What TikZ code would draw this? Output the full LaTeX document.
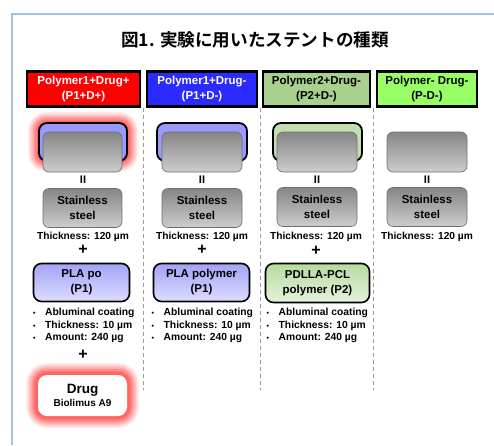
\documentclass[tikz,border=0pt]{standalone}
\usepackage{fontspec}
\setmainfont{Liberation Sans}
\newfontfamily\cjkbold{Noto Sans CJK JP Bold}

\definecolor{framecol}{HTML}{9DC3E6}
\definecolor{hdrred}{HTML}{FF0000}
\definecolor{hdrblue}{HTML}{2B2BFF}
\definecolor{hdrgreen}{HTML}{A9D18E}
\definecolor{hdrlime}{HTML}{99FF66}
\definecolor{plafill}{HTML}{9999FF}
\definecolor{platop}{HTML}{A3A3F7}
\definecolor{plabot}{HTML}{DCDCFF}
\definecolor{pcltop}{HTML}{B7DB9F}
\definecolor{pclbot}{HTML}{E6F2DD}
\definecolor{steeltop}{HTML}{868686}
\definecolor{steelbot}{HTML}{CDCDCD}
\definecolor{steeledge}{HTML}{6E6E6E}
\definecolor{glow}{HTML}{FF4040}

\newcommand{\fsz}[2]{\fontsize{#1}{#2}\selectfont}

\tikzset{
  x=1pt, y=-1pt,
  hdrbox/.style={draw=black, line width=2.2pt, inner sep=0pt, align=center,
    minimum height=35pt, font=\fsz{11.5}{15}\bfseries},
  coatbox/.style={draw=black, line width=1.8pt, rounded corners=8pt,
    inner sep=0pt, minimum height=38pt},
  steelbox/.style={draw=steeledge, line width=0.6pt, rounded corners=6pt,
    top color=steeltop, bottom color=steelbot, inner sep=0pt,
    minimum width=79pt, minimum height=39pt, align=center,
    font=\fsz{11.5}{15}\bfseries},
  layerbox/.style={draw=black, line width=1.6pt, rounded corners=8pt,
    inner sep=0pt, minimum height=38pt, align=center,
    font=\fsz{11.5}{15}\bfseries},
  eqsign/.style={font=\fsz{11}{12}\bfseries, inner sep=0pt},
  plussign/.style={font=\fsz{16}{16}\bfseries, inner sep=0pt},
  thick label/.style={font=\fsz{10.2}{12}\bfseries, inner sep=0pt},
  bullets/.style={font=\fsz{10.3}{12.6}\bfseries, align=left, inner sep=0pt, anchor=west},
  separator/.style={draw=gray!80, line width=0.8pt, dash pattern=on 4pt off 3pt},
}

% soft red halo: stacked translucent rings around a rounded box
\newcommand{\redglow}[5]{%
  \foreach \w/\o in {22/0.10,19/0.12,16/0.15,13/0.18,10/0.22,7/0.28,4/0.35}{
    \draw[glow, line width=\w pt, opacity=\o, rounded corners=#5pt]
      (#1,#2) rectangle (#3,#4);
  }%
}

\newcommand{\dotitem}{\makebox[12pt][l]{\fsz{7}{12}\textbullet}}

\begin{document}
\begin{tikzpicture}
\useasboundingbox (0,0) rectangle (494,445);
\fill[white] (0,0) rectangle (494,445);

% light blue frame (top and left edges)
\draw[framecol, line width=2pt] (12,445) -- (12,14) -- (494,14);

% title
\node[font=\cjkbold\fsz{17.6}{20}] (title) at (255,40) {図1. 実験に用いたステントの種類};

% column headers
\node[hdrbox, fill=hdrred, text=white, minimum width=113pt] (h1) at (83.5,89)
  {Polymer1+Drug+\\(P1+D+)};
\node[hdrbox, fill=hdrblue, text=white, minimum width=110pt] (h2) at (202,89)
  {Polymer1+Drug-\\(P1+D-)};
\node[hdrbox, fill=hdrgreen, text=black, minimum width=107pt] (h3) at (316.5,89)
  {Polymer2+Drug-\\(P2+D-)};
\node[hdrbox, fill=hdrlime, text=black, minimum width=100pt] (h4) at (427,89)
  {Polymer- Drug-\\(P-D-)};

% column separators
\coordinate (s1top) at (143,108);   \coordinate (s1bot) at (143,390);
\coordinate (s2top) at (260.5,108); \coordinate (s2bot) at (260.5,390);
\coordinate (s3top) at (373,108);   \coordinate (s3bot) at (373,390);
\draw[separator] (s1top) -- (s1bot);
\draw[separator] (s2top) -- (s2bot);
\draw[separator] (s3top) -- (s3bot);

% ---------- stent cross sections ----------
\redglow{39}{123}{127}{161}{8}
\node[coatbox, fill=plafill, minimum width=88pt] (c1) at (83,142) {};
\node[steelbox, minimum height=40pt] (x1) at (82.5,152) {};

\node[coatbox, fill=plafill, minimum width=90pt] (c2) at (202,142) {};
\node[steelbox, minimum height=40pt, minimum width=80pt] (x2) at (202,152) {};

\node[coatbox, fill=hdrgreen!70!white, minimum width=89pt] (c3) at (317.5,142) {};
\node[steelbox, minimum height=40pt, minimum width=80pt] (x3) at (317,152) {};

\node[steelbox, minimum height=40pt, minimum width=80pt] (x4) at (427,152) {};

% ---------- equals signs ----------
\node[eqsign] (e1) at (83,180) {II};
\node[eqsign] (e2) at (202,180) {II};
\node[eqsign] (e3) at (317,180) {II};
\node[eqsign] (e4) at (427,180) {II};

% ---------- stainless steel core ----------
\node[steelbox] (st1) at (82.5,208) {Stainless\\steel};
\node[steelbox, minimum width=80pt] (st2) at (202,208) {Stainless\\steel};
\node[steelbox, minimum width=80pt] (st3) at (317,207) {Stainless\\steel};
\node[steelbox, minimum width=80pt] (st4) at (427,207) {Stainless\\steel};

\node[thick label] (t1) at (83,237) {Thickness: 120 µm};
\node[thick label] (t2) at (202,237) {Thickness: 120 µm};
\node[thick label] (t3) at (316,237) {Thickness: 120 µm};
\node[thick label] (t4) at (427,237) {Thickness: 120 µm};

\node[plussign] (p1) at (83,250) {+};
\node[plussign] (p2) at (202,250) {+};
\node[plussign] (p3) at (316,251) {+};

% ---------- polymer layers ----------
\node[layerbox, top color=platop, bottom color=plabot, minimum width=96pt,
  minimum height=38pt] (l1) at (81.5,282.5) {PLA po\\(P1)};
\node[layerbox, top color=platop, bottom color=plabot, minimum width=96pt,
  minimum height=38pt] (l2) at (201.5,282.5) {PLA polymer\\(P1)};
\node[layerbox, top color=pcltop, bottom color=pclbot, minimum width=104pt,
  minimum height=39pt] (l3) at (317.5,283) {PDLLA-PCL\\polymer (P2)};

\newcommand{\coatlist}{%
  \dotitem Abluminal coating\\
  \dotitem Thickness: 10 µm\\
  \dotitem Amount: 240 µg}
\node[bullets] (b1) at (33,325.5) {\coatlist};
\node[bullets] (b2) at (151.5,325.5) {\coatlist};
\node[bullets] (b3) at (266.5,325.5) {\coatlist};

% ---------- drug ----------
\node[plussign] (p4) at (83,355) {+};
\redglow{37}{374}{128}{417}{10}
\node[fill=white, rounded corners=9pt,
  minimum width=89pt, minimum height=41pt, inner sep=0pt, align=center]
  (d1) at (82.5,395.5)
  {{\fsz{13.5}{16}\bfseries Drug}\\[1pt]{\fsz{10}{12}\bfseries Biolimus A9}};
\end{tikzpicture}
\end{document}
